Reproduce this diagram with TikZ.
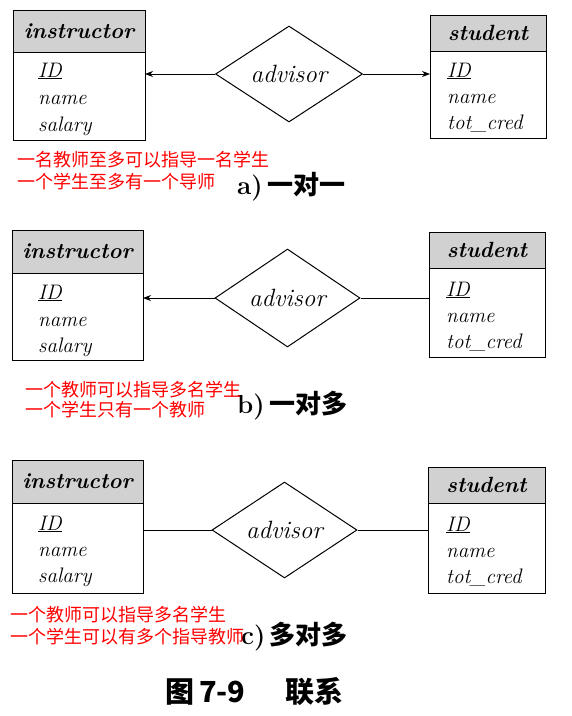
\documentclass[tikz,border=0pt]{standalone}
\usepackage{fontspec}
\newfontfamily\cjk{Noto Sans CJK SC}
\usetikzlibrary{positioning,shapes.geometric,arrows.meta}
\tikzset{
	enthead/.style={draw, fill=black!18, line width=1pt, inner sep=0pt, outer sep=0pt, font=\fontsize{22}{24}\selectfont\bfseries\itshape},
	entbody/.style={draw, line width=1pt, inner sep=0pt, outer sep=0pt},
	attr/.style={anchor=base west, inner sep=0pt, font=\fontsize{21}{23}\selectfont\itshape},
	rel/.style={draw, diamond, aspect=1.5, line width=1pt, inner sep=0pt, font=\fontsize{25}{27}\selectfont\itshape},
	note/.style={anchor=west, inner sep=0pt, text=red, font=\cjk\fontsize{18}{20}\selectfont},
	subcap/.style={anchor=base west, inner sep=0pt, font=\fontsize{26}{28}\selectfont\bfseries},
	card/.style={-{Stealth[length=8pt,width=6pt]}, line width=0.8pt}
}

\begin{document}
\begin{tikzpicture}[x=1pt, y=-1pt]
		%%%%% START %%%%%
		\useasboundingbox (0, 0) rectangle (572, 716);
		
		%%%%% a) one to one %%%%%
		\node[enthead, minimum width=132, minimum height=42] (i1h) at (79, 31) {instructor};
		\node[entbody, minimum width=132, minimum height=88, below=0pt of i1h] (i1b) {};
		\node[attr] (i1id) at (38, 77) {\underline{ID}};
		\node[attr] (i1nm) at (38, 104) {name};
		\node[attr] (i1sl) at (38, 131) {salary};
		
		\node[rel, minimum width=147, minimum height=96] (d1) at (289, 74) {advisor};
		
		\node[enthead, minimum width=116, minimum height=36] (s1h) at (488, 33) {student};
		\node[entbody, minimum width=116, minimum height=87, below=0pt of s1h] (s1b) {};
		\node[attr] (s1id) at (447, 77) {\underline{ID}};
		\node[attr] (s1nm) at (447, 103) {name};
		\node[attr] (s1tc) at (447, 129) {tot\_cred};
		
		\draw[card] (d1.west) -- (d1.west -| i1b.east);
		\draw[card] (d1.east) -- (d1.east -| s1b.west);
		
		\node[subcap] (ca) at (237, 194) {a)\,{\cjk 一对一}};
		\node[note] (n1a) at (17, 160) {一名教师至多可以指导一名学生};
		\node[note] (n1b) at (17, 182) {一个学生至多有一个导师};
		
		%%%%% b) one to many %%%%%
		\node[enthead, minimum width=131, minimum height=43] (i2h) at (77.5, 251.5) {instructor};
		\node[entbody, minimum width=131, minimum height=87, below=0pt of i2h] (i2b) {};
		\node[attr] (i2id) at (38, 299) {\underline{ID}};
		\node[attr] (i2nm) at (38, 326) {name};
		\node[attr] (i2sl) at (38, 352) {salary};
		
		\node[rel, minimum width=145, minimum height=98] (d2) at (287.5, 298) {advisor};
		
		\node[enthead, minimum width=116, minimum height=36] (s2h) at (487, 250) {student};
		\node[entbody, minimum width=116, minimum height=89, below=0pt of s2h] (s2b) {};
		\node[attr] (s2id) at (446, 296) {\underline{ID}};
		\node[attr] (s2nm) at (446, 322) {name};
		\node[attr] (s2tc) at (446, 348) {tot\_cred};
		
		\draw[card] (d2.west) -- (d2.west -| i2b.east);
		\draw[line width=0.8pt] (d2.east) -- (d2.east -| s2b.west);
		
		\node[subcap] (cb) at (237, 413) {b)\,{\cjk 一对多}};
		\node[note] (n2a) at (25, 390) {一个教师可以指导多名学生};
		\node[note] (n2b) at (25, 410) {一个学生只有一个教师};
		
		%%%%% c) many to many %%%%%
		\node[enthead, minimum width=131, minimum height=43] (i3h) at (77.5, 481.5) {instructor};
		\node[entbody, minimum width=131, minimum height=90, below=0pt of i3h] (i3b) {};
		\node[attr] (i3id) at (38, 530) {\underline{ID}};
		\node[attr] (i3nm) at (38, 556) {name};
		\node[attr] (i3sl) at (38, 582) {salary};
		
		\node[rel, minimum width=145, minimum height=96] (d3) at (284.5, 530) {advisor};
		
		\node[enthead, minimum width=117, minimum height=36] (s3h) at (486.5, 485) {student};
		\node[entbody, minimum width=117, minimum height=90, below=0pt of s3h] (s3b) {};
		\node[attr] (s3id) at (446, 531) {\underline{ID}};
		\node[attr] (s3nm) at (446, 557) {name};
		\node[attr] (s3tc) at (446, 583) {tot\_cred};
		
		\draw[line width=0.8pt] (d3.west) -- (d3.west -| i3b.east);
		\draw[line width=0.8pt] (d3.east) -- (d3.east -| s3b.west);
		
		\node[subcap] (cc) at (241, 644) {c)\,{\cjk 多对多}};
		\node[note] (n3a) at (10, 615) {一个教师可以指导多名学生};
		\node[note] (n3b) at (10, 637) {一个学生可以有多个指导教师};
		
		%%%%% figure caption %%%%%
		\node[anchor=base west, inner sep=0pt, font=\cjk\fontsize{29}{31}\selectfont\bfseries] (fig) at (165, 702) {图\,7-9\hspace{40pt}联系};
		
		%%%%% END %%%%%
\end{tikzpicture}
\end{document}
